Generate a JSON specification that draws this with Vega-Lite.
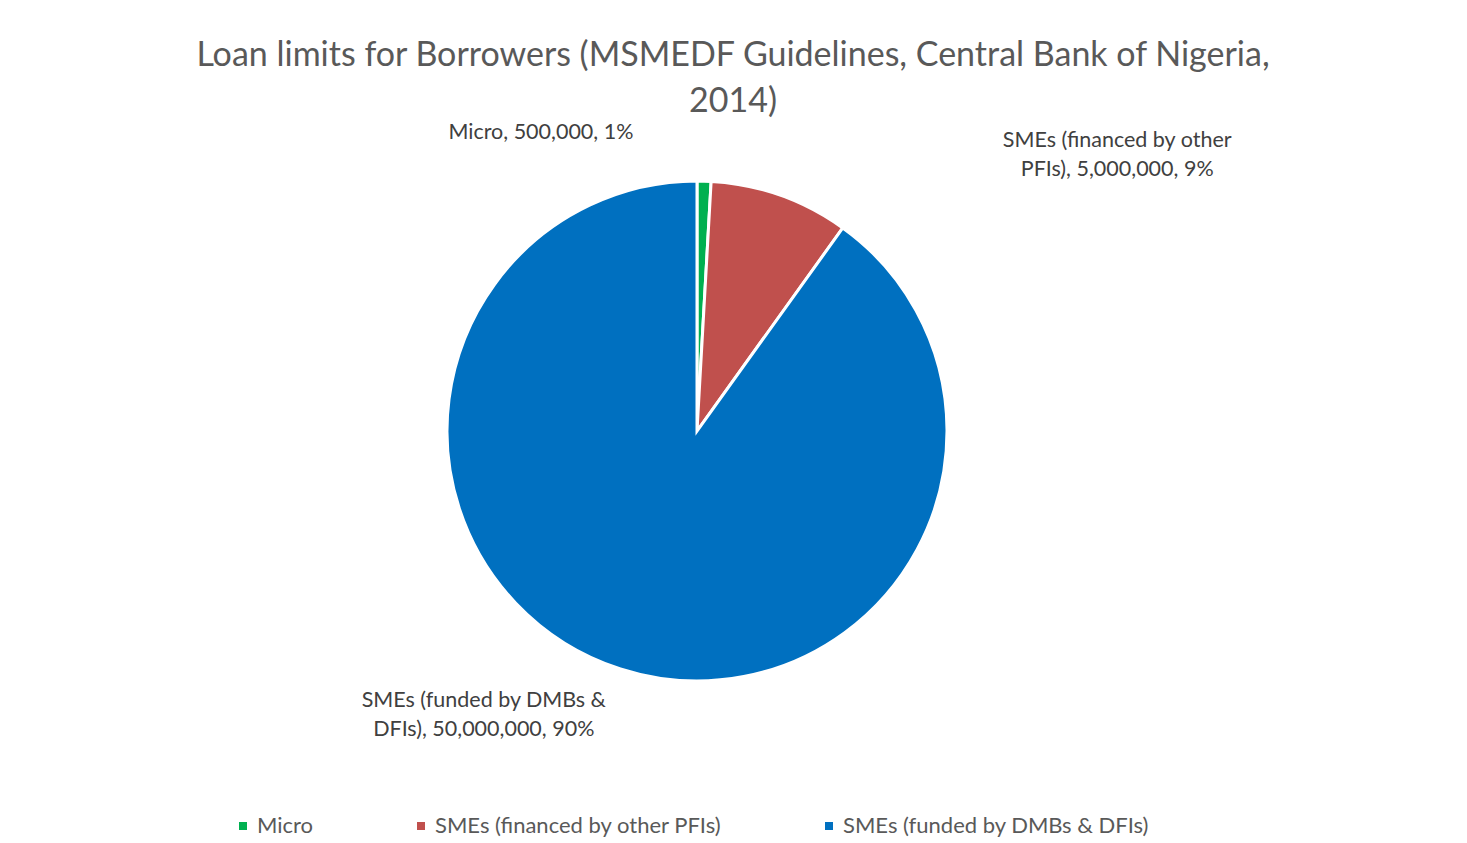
{
  "$schema": "https://vega.github.io/schema/vega-lite/v6.json",
  "autosize": "none",
  "width": 1394,
  "height": 602,
  "padding": {"left": 0, "top": 130, "right": 73, "bottom": 111},
  "background": "white",
  "config": {"view": {"stroke": null}, "font": "Lato"},
  "title": {
    "text": ["Loan limits for Borrowers (MSMEDF Guidelines, Central Bank of Nigeria,", "2014)"],
    "fontSize": 34,
    "font": "Lato",
    "fontWeight": "normal",
    "color": "#595959",
    "lineHeight": 46,
    "anchor": "middle",
    "dx": 36,
    "offset": 3
  },
  "data": {
    "values": [
      {"category": "Micro", "value": 500000, "order": 1, "label": "Micro, 500,000, 1%"},
      {"category": "SMEs (financed by other PFIs)", "value": 5000000, "order": 2, "label": "SMEs (financed by other|PFIs), 5,000,000, 9%"},
      {"category": "SMEs (funded by DMBs & DFIs)", "value": 50000000, "order": 3, "label": "SMEs (funded by DMBs &|DFIs), 50,000,000, 90%"}
    ]
  },
  "encoding": {
    "theta": {"field": "value", "type": "quantitative", "stack": true},
    "order": {"field": "order", "type": "quantitative"}
  },
  "layer": [
    {
      "mark": {"type": "arc", "radius": 250, "stroke": "white", "strokeWidth": 3},
      "encoding": {
        "color": {
          "field": "category",
          "type": "nominal",
          "scale": {
            "domain": ["Micro", "SMEs (financed by other PFIs)", "SMEs (funded by DMBs & DFIs)"],
            "range": ["#00b050", "#c0504d", "#0070c0"]
          },
          "legend": {
            "title": null,
            "orient": "none",
            "direction": "horizontal",
            "legendX": 232,
            "legendY": 685,
            "symbolType": "square",
            "symbolSize": 64,
            "symbolStrokeWidth": 0,
            "labelFontSize": 22,
            "labelFont": "Lato",
            "labelColor": "#595959",
            "labelLimit": 400,
            "columnPadding": 96,
            "labelOffset": 3
          }
        }
      }
    },
    {
      "transform": [{"filter": "datum.order == 1"}],
      "mark": {"type": "text", "radius": 280, "dx": -164, "dy": -18, "fontSize": 21.5, "font": "Lato", "color": "#404040", "align": "center", "baseline": "middle"},
      "encoding": {"text": {"field": "label"}}
    },
    {
      "transform": [{"filter": "datum.order == 2"}],
      "mark": {"type": "text", "radius": 280, "dx": 342, "dy": -21, "fontSize": 21.5, "font": "Lato", "color": "#404040", "align": "center", "baseline": "middle", "lineBreak": "|", "lineHeight": 29},
      "encoding": {"text": {"field": "label"}}
    },
    {
      "transform": [{"filter": "datum.order == 3"}],
      "mark": {"type": "text", "radius": 280, "dx": -299, "dy": 3, "fontSize": 21.5, "font": "Lato", "color": "#404040", "align": "center", "baseline": "middle", "lineBreak": "|", "lineHeight": 29},
      "encoding": {"text": {"field": "label"}}
    }
  ]
}
